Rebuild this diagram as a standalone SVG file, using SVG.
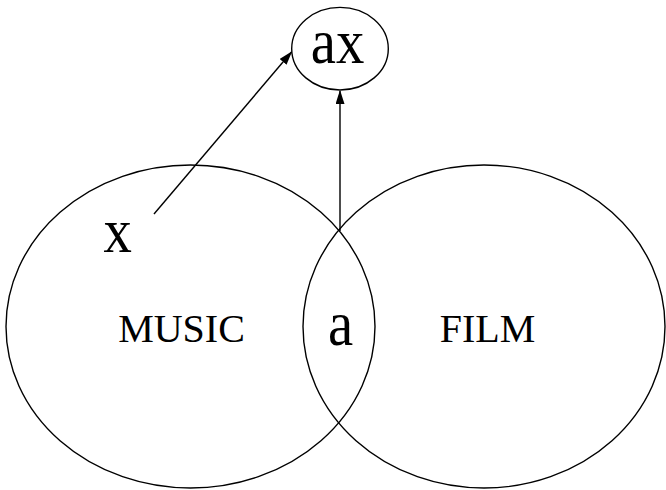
<svg xmlns="http://www.w3.org/2000/svg" width="666" height="490" viewBox="0 0 666 490">
<style>
.shape{fill:none;stroke:#000;stroke-width:1.4}
.edge{fill:none;stroke:#000;stroke-width:1.4}
text{font-family:"Liberation Serif","Times New Roman",serif;fill:#000;text-anchor:middle}
.big{font-size:63px}
.lbl{font-size:40px}
</style>
<defs>
<marker id="arr" viewBox="0 0 14 9" refX="13" refY="4.5" markerWidth="14" markerHeight="9" markerUnits="userSpaceOnUse" orient="auto">
<path d="M0,0 L14,4.5 L0,9 Z" fill="#000"/>
</marker>
</defs>
<rect width="666" height="490" fill="#fff"/>
<g id="music">
<ellipse class="shape" cx="190.5" cy="326.5" rx="184.5" ry="161.5"/>
<text class="lbl" x="181.5" y="342">MUSIC</text>
<text class="big" transform="translate(117.7,252) scale(0.9,1)">x</text>
</g>
<g id="film">
<ellipse class="shape" cx="484" cy="326.5" rx="181" ry="161.5"/>
<text class="lbl" x="487.5" y="342">FILM</text>
</g>
<g id="intersection">
<text class="big" transform="translate(340.5,345) scale(0.9,1)">a</text>
</g>
<g id="ax">
<ellipse class="shape" cx="340" cy="48.7" rx="48.3" ry="41.3"/>
<text class="big" transform="translate(337.5,63) scale(0.9,1)">ax</text>
</g>
<g id="connectors">
<line class="edge" x1="154" y1="214" x2="291.5" y2="52" marker-end="url(#arr)"/>
<line class="edge" x1="340" y1="231" x2="340" y2="91" marker-end="url(#arr)"/>
</g>
</svg>
